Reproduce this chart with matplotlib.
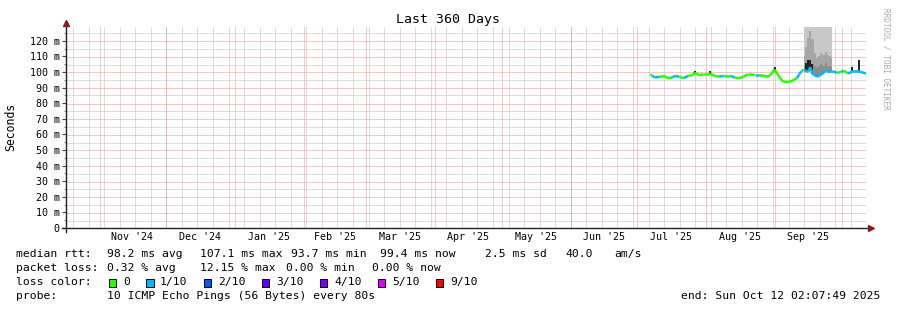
import numpy as np
import matplotlib
matplotlib.use('Agg')
import matplotlib.pyplot as plt
import matplotlib.dates as mdates
from matplotlib.collections import LineCollection
from matplotlib.lines import Line2D
from datetime import datetime, timedelta

# median rtt (ms), with pings lost out of 10
days = ['2025-07-07', '2025-07-08', '2025-07-09', '2025-07-11', '2025-07-13',
        '2025-07-15', '2025-07-17', '2025-07-18', '2025-07-20', '2025-07-22',
        '2025-07-24', '2025-07-26', '2025-07-27', '2025-07-29', '2025-07-31',
        '2025-08-02', '2025-08-03', '2025-08-05', '2025-08-07', '2025-08-09',
        '2025-08-11', '2025-08-12', '2025-08-14', '2025-08-16', '2025-08-18',
        '2025-08-20', '2025-08-21', '2025-08-23', '2025-08-25', '2025-08-27',
        '2025-08-29', '2025-08-30', '2025-09-01', '2025-09-03', '2025-09-04',
        '2025-09-05', '2025-09-07', '2025-09-09', '2025-09-11', '2025-09-12',
        '2025-09-13', '2025-09-14', '2025-09-16', '2025-09-17', '2025-09-18',
        '2025-09-20', '2025-09-21', '2025-09-23', '2025-09-24', '2025-09-25',
        '2025-09-27', '2025-09-29', '2025-10-01', '2025-10-02', '2025-10-04',
        '2025-10-06', '2025-10-08', '2025-10-10', '2025-10-12']
rtt = [98.5, 97.5, 96.5, 96.8, 97.5, 96.0, 96.5, 97.5, 97.0, 96.0,
       97.5, 98.0, 99.5, 98.0, 98.5, 98.5, 99.0, 97.5, 97.0, 97.5,
       97.0, 97.5, 96.5, 96.0, 97.0, 98.5, 98.5, 98.0, 98.0, 97.5,
       97.0, 98.0, 101.5, 97.0, 95.0, 93.7, 93.5, 94.5, 96.0, 98.5,
       100.5, 101.5, 100.0, 103.0, 99.0, 97.0, 97.5, 99.5, 101.0, 100.0,
       100.5, 99.5, 100.0, 101.0, 99.0, 100.5, 100.5, 100.0, 99.0]
loss = [0, 1, 1, 0, 0, 0, 1, 1, 0, 1,
        0, 0, 0, 0, 0, 0, 0, 0, 1, 0,
        0, 1, 0, 0, 0, 0, 0, 1, 0, 0,
        0, 0, 0, 0, 0, 0, 0, 0, 1, 1,
        0, 1, 1, 1, 1, 1, 1, 1, 1, 1,
        1, 0, 1, 0, 1, 1, 1, 1, 0]

# dark spikes above the median
spike_days = ['2025-07-27', '2025-08-03', '2025-09-01', '2025-09-15',
              '2025-09-16', '2025-09-17', '2025-09-18', '2025-10-06', '2025-10-09']
spike_top = [100.8, 100.8, 103.5, 106.0, 108.0, 107.5, 105.0, 103.5, 107.5]

# smoke during the loss period
smoke_days = ['2025-09-14', '2025-09-15', '2025-09-16', '2025-09-17', '2025-09-18',
              '2025-09-19', '2025-09-20', '2025-09-21', '2025-09-22', '2025-09-23',
              '2025-09-24', '2025-09-25', '2025-09-26', '2025-09-27']
smoke_mid = [110, 116, 122, 126, 121, 112, 109, 110, 112, 111, 113, 111, 110, 109]
smoke_low = [104, 106, 107, 106, 105, 104, 103, 104, 105, 104, 106, 104, 104, 103]

loss_colors = {0: '#26ff00', 1: '#00b8ff', 2: '#0059ff', 3: '#5e00ff',
               4: '#7e00ff', 5: '#dd00ff', 9: '#ff0000'}
loss_labels = ['0', '1/10', '2/10', '3/10', '4/10', '5/10', '9/10']

W, H = 897, 310
PW, PH = 800, 201          # plot area in pixels
MONO = 'DejaVu Sans Mono'


def fx(x):
    return x / W


def fy(y):
    return 1 - y / H


def to_dt(s):
    return datetime.strptime(s, '%Y-%m-%d')


end = datetime(2025, 10, 12, 2, 7, 49)
start = end - timedelta(days=360)
ymax = PH / 1.56
x0, x1 = mdates.date2num(start), mdates.date2num(end)


def xsnap(d):
    # put a 1px grid line on a pixel centre so the dots stay crisp
    p = (mdates.date2num(d) - x0) / (x1 - x0) * PW
    return x0 + (np.floor(p) + 0.5) / PW * (x1 - x0)


def ysnap(v):
    p = v / ymax * PH
    return (np.floor(p) + 0.5) / PH * ymax


fig = plt.figure(figsize=(W / 100, H / 100), dpi=100)
ax = fig.add_axes([fx(66), fy(228), PW / W, PH / H])
ax.set_xlim(x0, x1)
ax.set_ylim(0, ymax)
for s in ax.spines.values():
    s.set_visible(False)

# grid: weeks / 5 ms grey, months / 10 ms red, all dotted
dot = (0, (1, 1))
week_x = []
week = datetime(2024, 10, 20)          # first Sunday in range
while week < end:
    week_x.append(xsnap(week))
    week += timedelta(days=7)
month_x = [xsnap(mdates.num2date(d)) for d in mdates.MonthLocator().tick_values(start, end)]
ax.vlines(week_x, 0, ymax, colors='#bdbdbd', linewidths=0.72, linestyles=[dot],
          zorder=0)
ax.hlines([ysnap(v) for v in range(5, 130, 10)], x0, x1, colors='#bdbdbd',
          linewidths=0.72, linestyles=[dot], zorder=0)
ax.vlines(month_x, 0, ymax, colors='#ef9494', linewidths=0.72, linestyles=[dot],
          zorder=0.5)
ax.hlines([ysnap(v) for v in range(10, 130, 10)], x0, x1, colors='#ef9494',
          linewidths=0.72, linestyles=[dot], zorder=0.5)

xd = mdates.date2num([to_dt(s) for s in days])

# smoke, sitting on the median line
sd = mdates.date2num([to_dt(s) for s in smoke_days])
base = np.interp(sd, xd, rtt)
ax.fill_between(sd, base, ymax, color='#c8c8c8', step='mid', lw=0, zorder=1)
ax.fill_between(sd, base, smoke_mid, color='#a6a6a6', step='mid', lw=0, zorder=1.1)
ax.fill_between(sd, base, smoke_low, color='#8c8c8c', step='mid', lw=0, zorder=1.2)

# dark spikes
for d, top in zip(spike_days, spike_top):
    x = mdates.date2num(to_dt(d))
    ax.vlines(x, np.interp(x, xd, rtt), top, color='#222222', lw=1.4, zorder=2)

# median line coloured by loss
segs = [[(xd[i], rtt[i]), (xd[i + 1], rtt[i + 1])] for i in range(len(days) - 1)]
cols = [loss_colors[l] for l in loss[:-1]]
ax.add_collection(LineCollection(segs, colors=cols, linewidths=1.8, zorder=3,
                                 capstyle='butt'))

# ticks
ax.set_yticks(range(0, 130, 10))
ax.set_yticklabels(['0'] + ['%d m' % v for v in range(10, 130, 10)],
                   family=MONO, fontsize=7.2)
ax.set_yticks(range(5, 130, 10), minor=True)
ax.tick_params(axis='y', which='major', length=3, width=0.8, pad=1.5,
               color='#444444')
ax.tick_params(axis='y', which='minor', length=1.5, width=0.8, color='#888888')
ax.set_xticks([])

# month labels centred in the month
m = datetime(2024, 11, 1)
while m < datetime(2025, 10, 1):
    nxt = datetime(m.year + (m.month == 12), m.month % 12 + 1, 1)
    mid = m + (nxt - m) / 2
    ax.text(mdates.date2num(mid), -(237.5 - 228) / PH, m.strftime("%b '%y"),
            family=MONO, fontsize=7.2, ha='center', va='center',
            transform=ax.get_xaxis_transform())
    m = nxt

# axes with arrows
fig.add_artist(Line2D([fx(62), fx(869)], [fy(228), fy(228)], color='#222222',
                      lw=1.0))
fig.add_artist(Line2D([fx(66), fx(66)], [fy(232), fy(24)], color='#222222',
                      lw=1.0))
fig.add_artist(Line2D([fx(871)], [fy(228)], marker='>', color='#8b1a1a',
                      markersize=4, lw=0))
fig.add_artist(Line2D([fx(66)], [fy(23)], marker='^', color='#8b1a1a',
                      markersize=4, lw=0))

fig.text(fx(448), fy(19), 'Last 360 Days', family=MONO, fontsize=9.5,
         ha='center', va='center')
fig.text(fx(11), fy(127), 'Seconds', family=MONO, fontsize=8.3,
         rotation=90, ha='center', va='center')
fig.text(fx(886), fy(59), 'RRDTOOL / TOBI OETIKER', family=MONO, fontsize=5.6,
         rotation=270, ha='center', va='center', color='#aaaaaa')

# legend rows
fs = 8.2
rows = [
    (254, [(16, 'median rtt:'), (107, '98.2 ms avg'), (200, '107.1 ms max'),
           (291, '93.7 ms min'), (380, '99.4 ms now'), (485, '2.5 ms sd'),
           (565, '40.0'), (614, 'am/s')]),
    (268, [(16, 'packet loss:'), (107, '0.32 % avg'), (200, '12.15 % max'),
           (286, '0.00 % min'), (372, '0.00 % now')]),
    (282, [(16, 'loss color:')]),
    (296, [(16, 'probe:'), (107, '10 ICMP Echo Pings (56 Bytes) every 80s')]),
]
for y, parts in rows:
    for x, s in parts:
        fig.text(fx(x), fy(y), s, family=MONO, fontsize=fs, ha='left',
                 va='center')
fig.text(fx(880), fy(296), 'end: Sun Oct 12 02:07:49 2025', family=MONO,
         fontsize=fs, ha='right', va='center')

box_x = [108.5, 146, 203.5, 261.5, 319.5, 377.5, 435.5]
lab_x = [123, 160, 218, 276, 334, 392, 450]
for k, (bx, lx, lab) in enumerate(zip(box_x, lab_x, loss_labels)):
    key = list(loss_colors)[k]
    fig.add_artist(plt.Rectangle((fx(bx), fy(286.5)), 7.5 / W, 8 / H,
                                 facecolor=loss_colors[key], edgecolor='black',
                                 lw=0.7))
    fig.text(fx(lx), fy(282), lab, family=MONO, fontsize=fs, ha='left',
             va='center')

fig.savefig('out.png', dpi=100, facecolor='white')
